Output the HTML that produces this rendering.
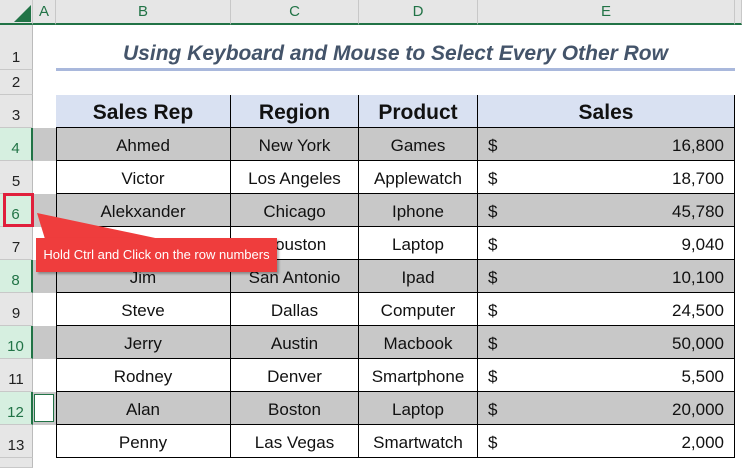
<!DOCTYPE html>
<html><head><style>
body{margin:0;width:742px;height:465px;overflow:hidden;background:#fff;font-family:"Liberation Sans",Arial,sans-serif;position:relative}
div{position:absolute;box-sizing:border-box}
.ch{top:0;height:25px;background:#e6e6e6;border-right:1px solid #c8c8c8;border-bottom:2px solid #217346;color:#217346;font-size:15px;text-align:center;line-height:23px}
.rh{left:0;width:33px;background:#e6e6e6;border-bottom:1px solid #c8c8c8;border-right:1px solid #bbb;font-size:15px;text-align:center;color:#222}
.rh span{position:absolute;bottom:3px;left:0;right:0}
.sel{background:#d6efe0;border-right:2px solid #217346;color:#217346}
.c{font-size:17px;text-align:center;border-right:1.5px solid #000;border-bottom:1.5px solid #000;line-height:35px;color:#111}
</style></head><body>
<div class="ch" style="left:0;width:33px;background:#e6e6e6"></div>
<svg style="position:absolute;left:14px;top:5px" width="18" height="18"><polygon points="17,0 17,17 0,17" fill="#217346"/></svg>
<div class="ch" style="left:33px;width:23px">A</div>
<div class="ch" style="left:56px;width:175px">B</div>
<div class="ch" style="left:231px;width:128px">C</div>
<div class="ch" style="left:359px;width:119px">D</div>
<div class="ch" style="left:478px;width:257px">E</div>
<div class="ch" style="left:735px;width:7px"></div>

<div class="rh" style="top:25px;height:45px"><span>1</span></div>
<div class="rh" style="top:70px;height:25px"><span>2</span></div>
<div class="rh" style="top:95px;height:33px"><span>3</span></div>
<div class="rh sel" style="top:128px;height:33px"><span>4</span></div>
<div class="rh" style="top:161px;height:33px"><span>5</span></div>
<div class="rh sel" style="top:194px;height:33px"><span>6</span></div>
<div class="rh" style="top:227px;height:33px"><span>7</span></div>
<div class="rh sel" style="top:260px;height:33px"><span>8</span></div>
<div class="rh" style="top:293px;height:33px"><span>9</span></div>
<div class="rh sel" style="top:326px;height:33px"><span>10</span></div>
<div class="rh" style="top:359px;height:33px"><span>11</span></div>
<div class="rh sel" style="top:392px;height:33px"><span>12</span></div>
<div class="rh" style="top:425px;height:33px"><span>13</span></div>
<div class="rh" style="top:458px;height:10px"></div>

<div style="left:56px;top:42px;width:679px;text-align:center;font-size:21px;font-weight:bold;font-style:italic;color:#44546a">Using Keyboard and Mouse to Select Every Other Row</div>
<div style="left:56px;top:68px;width:679px;height:3px;background:#a9b8dc"></div>

<div style="left:33px;top:128px;width:702px;height:33px;background:#c8c8c8"></div>
<div style="left:33px;top:194px;width:702px;height:33px;background:#c8c8c8"></div>
<div style="left:33px;top:260px;width:702px;height:33px;background:#c8c8c8"></div>
<div style="left:33px;top:326px;width:702px;height:33px;background:#c8c8c8"></div>
<div style="left:33px;top:392px;width:702px;height:33px;background:#c8c8c8"></div>
<div style="left:34px;top:394px;width:20px;height:28px;background:#fff;border:1px solid #217346"></div>

<div style="left:56px;top:95px;width:679px;height:363px;border-left:1.5px solid #000;border-top:1.5px solid #000"></div>
<div class="c" style="left:56px;top:95px;width:175px;height:33px;background:#d9e1f2;font-weight:bold;font-size:21px">Sales Rep</div>
<div class="c" style="left:231px;top:95px;width:128px;height:33px;background:#d9e1f2;font-weight:bold;font-size:21px">Region</div>
<div class="c" style="left:359px;top:95px;width:119px;height:33px;background:#d9e1f2;font-weight:bold;font-size:21px">Product</div>
<div class="c" style="left:478px;top:95px;width:257px;height:33px;background:#d9e1f2;font-weight:bold;font-size:21px">Sales</div>

<script>
var d=[["Ahmed","New York","Games","16,800"],["Victor","Los Angeles","Applewatch","18,700"],["Alekxander","Chicago","Iphone","45,780"],["Tom","Houston","Laptop","9,040"],["Jim","San Antonio","Ipad","10,100"],["Steve","Dallas","Computer","24,500"],["Jerry","Austin","Macbook","50,000"],["Rodney","Denver","Smartphone","5,500"],["Alan","Boston","Laptop","20,000"],["Penny","Las Vegas","Smartwatch","2,000"]];
var h="";for(var i=0;i<10;i++){var y=128+33*i;var r=d[i];
h+='<div class="c" style="left:56px;top:'+y+'px;width:175px;height:33px">'+r[0]+'</div>';
h+='<div class="c" style="left:231px;top:'+y+'px;width:128px;height:33px">'+r[1]+'</div>';
h+='<div class="c" style="left:359px;top:'+y+'px;width:119px;height:33px">'+r[2]+'</div>';
h+='<div class="c" style="left:478px;top:'+y+'px;width:257px;height:33px;text-align:left;padding-left:10px">$<span style="position:absolute;right:10px">'+r[3]+'</span></div>';}
document.write(h);
</script>

<div style="left:3px;top:193px;width:31px;height:34px;border:3px solid #e0203c"></div>
<svg style="position:absolute;left:0;top:0" width="742" height="465"><polygon points="37,213 160,239 45,239" fill="#ef3d3d"/></svg>
<div style="left:36px;top:238px;width:241px;height:34px;background:#ef3d3d;color:#fff;font-size:13px;line-height:34px;text-align:center;box-shadow:2px 2px 2px rgba(0,0,0,.3)">Hold Ctrl and Click on the row numbers</div>
</body></html>
